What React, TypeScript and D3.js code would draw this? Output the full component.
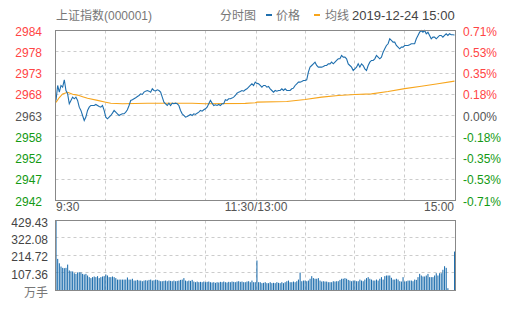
import React from "react";
import * as d3 from "d3";

const prevClose = 2962.75;
const priceTicks = [2983.79, 2978.53, 2973.27, 2968.01, 2962.75, 2957.49, 2952.23, 2946.97, 2941.71];
const priceLabels = ["2984", "2978", "2973", "2968", "2963", "2958", "2952", "2947", "2942"];
const pctLabels = ["0.71%", "0.53%", "0.35%", "0.18%", "0.00%", "-0.18%", "-0.35%", "-0.53%", "-0.71%"];
const volTicks = [429.43, 322.08, 214.72, 107.36, 0];
const volLabels = ["429.43", "322.08", "214.72", "107.36", "万手"];
const timeLabels = ["9:30", "11:30/13:00", "15:00"];
const timeTickIdx = [0, 120.5, 240];
const gridIdx = [30, 60, 90, 120.5, 150, 180, 210];

// one price per minute, 9:30 .. 15:00
const prices = [
  2966.47, 2970.18, 2968.53, 2970.18, 2969.77, 2971.59, 2968.94, 2968.12, 2965.65, 2966.47,
  2967.3, 2966.88, 2967.3, 2966.47, 2964.82, 2964.0, 2962.76, 2961.52, 2962.35, 2964.0,
  2964.82, 2965.23, 2965.23, 2965.23, 2965.48, 2965.23, 2964.99, 2964.82, 2965.23, 2964.0,
  2962.35, 2961.93, 2962.35, 2962.76, 2963.33, 2964.0, 2963.58, 2963.17, 2962.76, 2963.0,
  2963.17, 2963.17, 2963.58, 2964.16, 2965.23, 2966.47, 2966.64, 2966.88, 2967.13, 2967.46,
  2967.71, 2968.12, 2967.96, 2968.53, 2968.78, 2968.94, 2968.78, 2968.53, 2969.36, 2968.94,
  2968.85, 2969.11, 2968.94, 2968.53, 2967.3, 2966.06, 2965.65, 2965.23, 2965.81, 2965.23,
  2965.81, 2965.65, 2965.81, 2965.65, 2965.23, 2964.0, 2963.17, 2962.76, 2962.35, 2962.51,
  2962.76, 2963.0, 2962.76, 2963.17, 2963.0, 2963.33, 2963.58, 2964.0, 2963.83, 2964.16,
  2964.41, 2964.82, 2965.65, 2966.47, 2965.81, 2965.23, 2965.4, 2965.23, 2965.48, 2965.23,
  2965.65, 2965.65, 2966.64, 2966.47, 2966.88, 2966.88, 2967.05, 2967.3, 2967.71, 2968.28,
  2968.53, 2968.7, 2968.94, 2968.78, 2969.11, 2969.36, 2969.77, 2970.18, 2970.6, 2970.18,
  2971.01, 2970.7, 2970.59, 2970.18, 2969.77, 2970.18, 2970.18, 2969.77, 2969.93, 2969.36,
  2968.94, 2968.53, 2968.94, 2968.78, 2968.94, 2968.94, 2969.36, 2968.94, 2969.36, 2968.94,
  2968.94, 2968.94, 2969.36, 2969.52, 2970.18, 2970.59, 2971.0, 2971.0, 2971.17, 2971.42,
  2971.42, 2971.58, 2973.48, 2974.72, 2975.13, 2975.54, 2975.96, 2975.13, 2974.72, 2974.72,
  2974.72, 2974.88, 2975.13, 2975.13, 2975.54, 2975.54, 2975.96, 2975.54, 2975.96, 2976.37,
  2976.78, 2976.78, 2977.61, 2977.19, 2977.19, 2976.78, 2975.54, 2975.13, 2974.72, 2973.89,
  2974.3, 2974.72, 2975.54, 2974.72, 2975.54, 2975.13, 2974.3, 2973.89, 2975.13, 2975.96,
  2976.37, 2976.37, 2976.78, 2977.61, 2977.19, 2976.78, 2977.19, 2978.43, 2979.26, 2980.08,
  2980.5, 2981.73, 2981.32, 2980.91, 2980.91, 2980.08, 2979.67, 2979.26, 2979.67, 2979.67,
  2980.08, 2980.08, 2980.08, 2980.25, 2980.5, 2980.5, 2980.5, 2981.73, 2982.56, 2983.38,
  2983.79, 2983.38, 2983.79, 2982.97, 2983.38, 2982.56, 2981.73, 2982.14, 2982.14, 2981.73,
  2982.14, 2982.56, 2982.56, 2982.14, 2982.56, 2982.97, 2982.56, 2982.97, 2982.72, 2982.72,
  2982.68,
];

const avgIdx = [0, 2, 4, 7, 10, 13, 16, 19, 25, 30, 33, 40, 55, 82, 90, 114, 120, 121, 139, 150, 160, 170, 180, 190, 200, 210, 220, 230, 240];
const avgPrices = [2966.0, 2967.2, 2968.1, 2968.5, 2968.0, 2967.8, 2967.4, 2967.0, 2966.5, 2966.05, 2965.8, 2965.65, 2965.8, 2965.8, 2965.65, 2965.75, 2965.9, 2966.05, 2966.2, 2966.7, 2967.3, 2967.7, 2967.95, 2968.1, 2968.7, 2969.4, 2970.0, 2970.6, 2971.25];

// volume per minute (万手)
const volumes = [
  429.43, 194, 167, 147, 139, 137, 139, 159, 123, 118,
  117, 106, 102, 111, 112, 111, 102, 98, 102, 92,
  82, 76, 82, 86, 82, 88, 76, 82, 86, 88,
  98, 92, 82, 82, 86, 82, 76, 67, 67, 67,
  67, 67, 67, 80, 67, 67, 72, 61, 61, 65,
  61, 61, 57, 61, 63, 61, 65, 67, 61, 63,
  67, 65, 61, 57, 57, 59, 61, 57, 61, 59,
  57, 61, 57, 59, 61, 65, 67, 76, 61, 57,
  61, 59, 65, 55, 51, 55, 51, 53, 51, 55,
  51, 53, 55, 51, 49, 51, 47, 51, 49, 53,
  51, 55, 51, 49, 53, 51, 55, 53, 51, 55,
  57, 53, 55, 51, 51, 55, 57, 51, 61, 51,
  51, 184,
  51, 51, 45, 47, 51, 45, 45, 51, 45, 47, 45,
  51, 47, 45, 51, 45, 51, 57, 61, 51, 51,
  55, 51, 57, 67, 110, 57, 61, 61, 57, 61,
  72, 88, 76, 72, 72, 76, 61, 55, 57, 55,
  55, 51, 51, 51, 57, 55, 57, 57, 65, 72,
  72, 76, 72, 65, 61, 57, 61, 61, 57, 57,
  67, 61, 57, 67, 76, 82, 72, 67, 61, 61,
  67, 61, 72, 82, 67, 88, 92, 92, 92, 78,
  67, 67, 72, 67, 57, 55, 82, 55, 57, 61,
  61, 61, 57, 67, 65, 82, 102, 92, 86, 86,
  92, 102, 82, 82, 82, 92, 106, 92, 106, 106,
  127, 149, 139,
  14, 0, 0, 0, 239,
];

const L = 55.5, R = 455.5, T = 30.5, B = 200.5, VT = 220.5, VB = 290.5;
const BLUE = "#1f6fae";
const ORANGE = "#f7a51c";
const RED = "#ff4545";
const GREEN = "#139a13";
const GREY = "#555";
const FONT = "'Liberation Sans', Arial, 'Noto Sans CJK SC', sans-serif";

export default function App() {
  const x = d3.scaleLinear().domain([0, 240]).range([56, 454.5]);
  const y = d3.scaleLinear().domain([priceTicks[8], priceTicks[0]]).range([B, T]);
  const yv = d3.scaleLinear().domain([0, volTicks[0]]).range([VB, VT]);

  const line = d3.line<number>().x((_, i) => x(i)).y((d) => y(d));
  const avgLine = d3.line<number>().x((_, i) => x(avgIdx[i])).y((d) => y(d));

  const colorFor = (i: number) => (i < 4 ? RED : i === 4 ? GREY : GREEN);
  const snap = (v: number) => Math.round(v - 0.5) + 0.5;

  return (
    <svg width={505} height={310} style={{ position: "absolute", left: 0, top: 0, background: "#fff" }} fontFamily={FONT}>
      {/* header */}
      <text x={56} y={20} fontSize={12} fill="#777">上证指数(000001)</text>
      <text x={220} y={20} fontSize={12} fill="#777">分时图</text>
      <rect x={266} y={14} width={6} height={2} fill={BLUE} />
      <text x={276} y={20} fontSize={12} fill="#777">价格</text>
      <rect x={314} y={14} width={6} height={2} fill={ORANGE} />
      <text x={325} y={20} fontSize={12} fill="#777">均线</text>
      <text x={352} y={20} fontSize={13} fill="#444">2019-12-24 15:00</text>

      {/* price grid */}
      {priceTicks.slice(1, 8).map((t, i) => (
        <line key={"h" + i} x1={L} x2={R} y1={snap(y(t))} y2={snap(y(t))} stroke="#ccc" strokeDasharray="3,3" />
      ))}
      {gridIdx.map((g, i) => (
        <line key={"v" + i} x1={snap(x(g))} x2={snap(x(g))} y1={T} y2={B} stroke="#ccc" strokeDasharray="3,3" />
      ))}
      {/* volume grid */}
      {volTicks.slice(1, 4).map((t, i) => (
        <line key={"vh" + i} x1={L} x2={R} y1={snap(yv(t))} y2={snap(yv(t))} stroke="#ccc" strokeDasharray="3,3" />
      ))}
      {gridIdx.map((g, i) => (
        <line key={"vv" + i} x1={snap(x(g))} x2={snap(x(g))} y1={VT} y2={VB} stroke="#ccc" strokeDasharray="3,3" />
      ))}

      {/* volume bars */}
      {volumes.map((v, i) => (
        <rect key={"b" + i} x={x(i) - 0.5} width={1.05} y={yv(v)} height={VB - yv(v)} fill={BLUE} />
      ))}

      {/* lines */}
      <path d={avgLine(avgPrices) || ""} fill="none" stroke={ORANGE} strokeWidth={1.1} />
      <path d={line(prices) || ""} fill="none" stroke={BLUE} strokeWidth={1.1} />

      {/* borders */}
      <rect x={L} y={T} width={R - L} height={B - T} fill="none" stroke="#888" />
      <rect x={L} y={VT} width={R - L} height={VB - VT} fill="none" stroke="#888" />

      {/* price labels */}
      {priceTicks.map((t, i) => (
        <text key={"pl" + i} x={42} y={y(t) + 5} fontSize={12} textAnchor="end" fill={colorFor(i)}>{priceLabels[i]}</text>
      ))}
      {priceTicks.map((t, i) => (
        <text key={"pr" + i} x={463} y={y(t) + 5} fontSize={12} fill={colorFor(i)}>{pctLabels[i]}</text>
      ))}
      {/* time labels */}
      {timeLabels.map((s, i) => (
        <text key={"t" + i} x={i === 0 ? 56 : i === 2 ? 454 : x(timeTickIdx[i])} y={211} fontSize={12} fill={GREY}
          textAnchor={i === 0 ? "start" : i === 2 ? "end" : "middle"}>{s}</text>
      ))}
      {/* volume labels */}
      {volTicks.map((t, i) => (
        <text key={"vl" + i} x={48} y={yv(t) + 6} fontSize={12} textAnchor="end" fill={i === 4 ? "#777" : "#444"}>{volLabels[i]}</text>
      ))}
    </svg>
  );
}
